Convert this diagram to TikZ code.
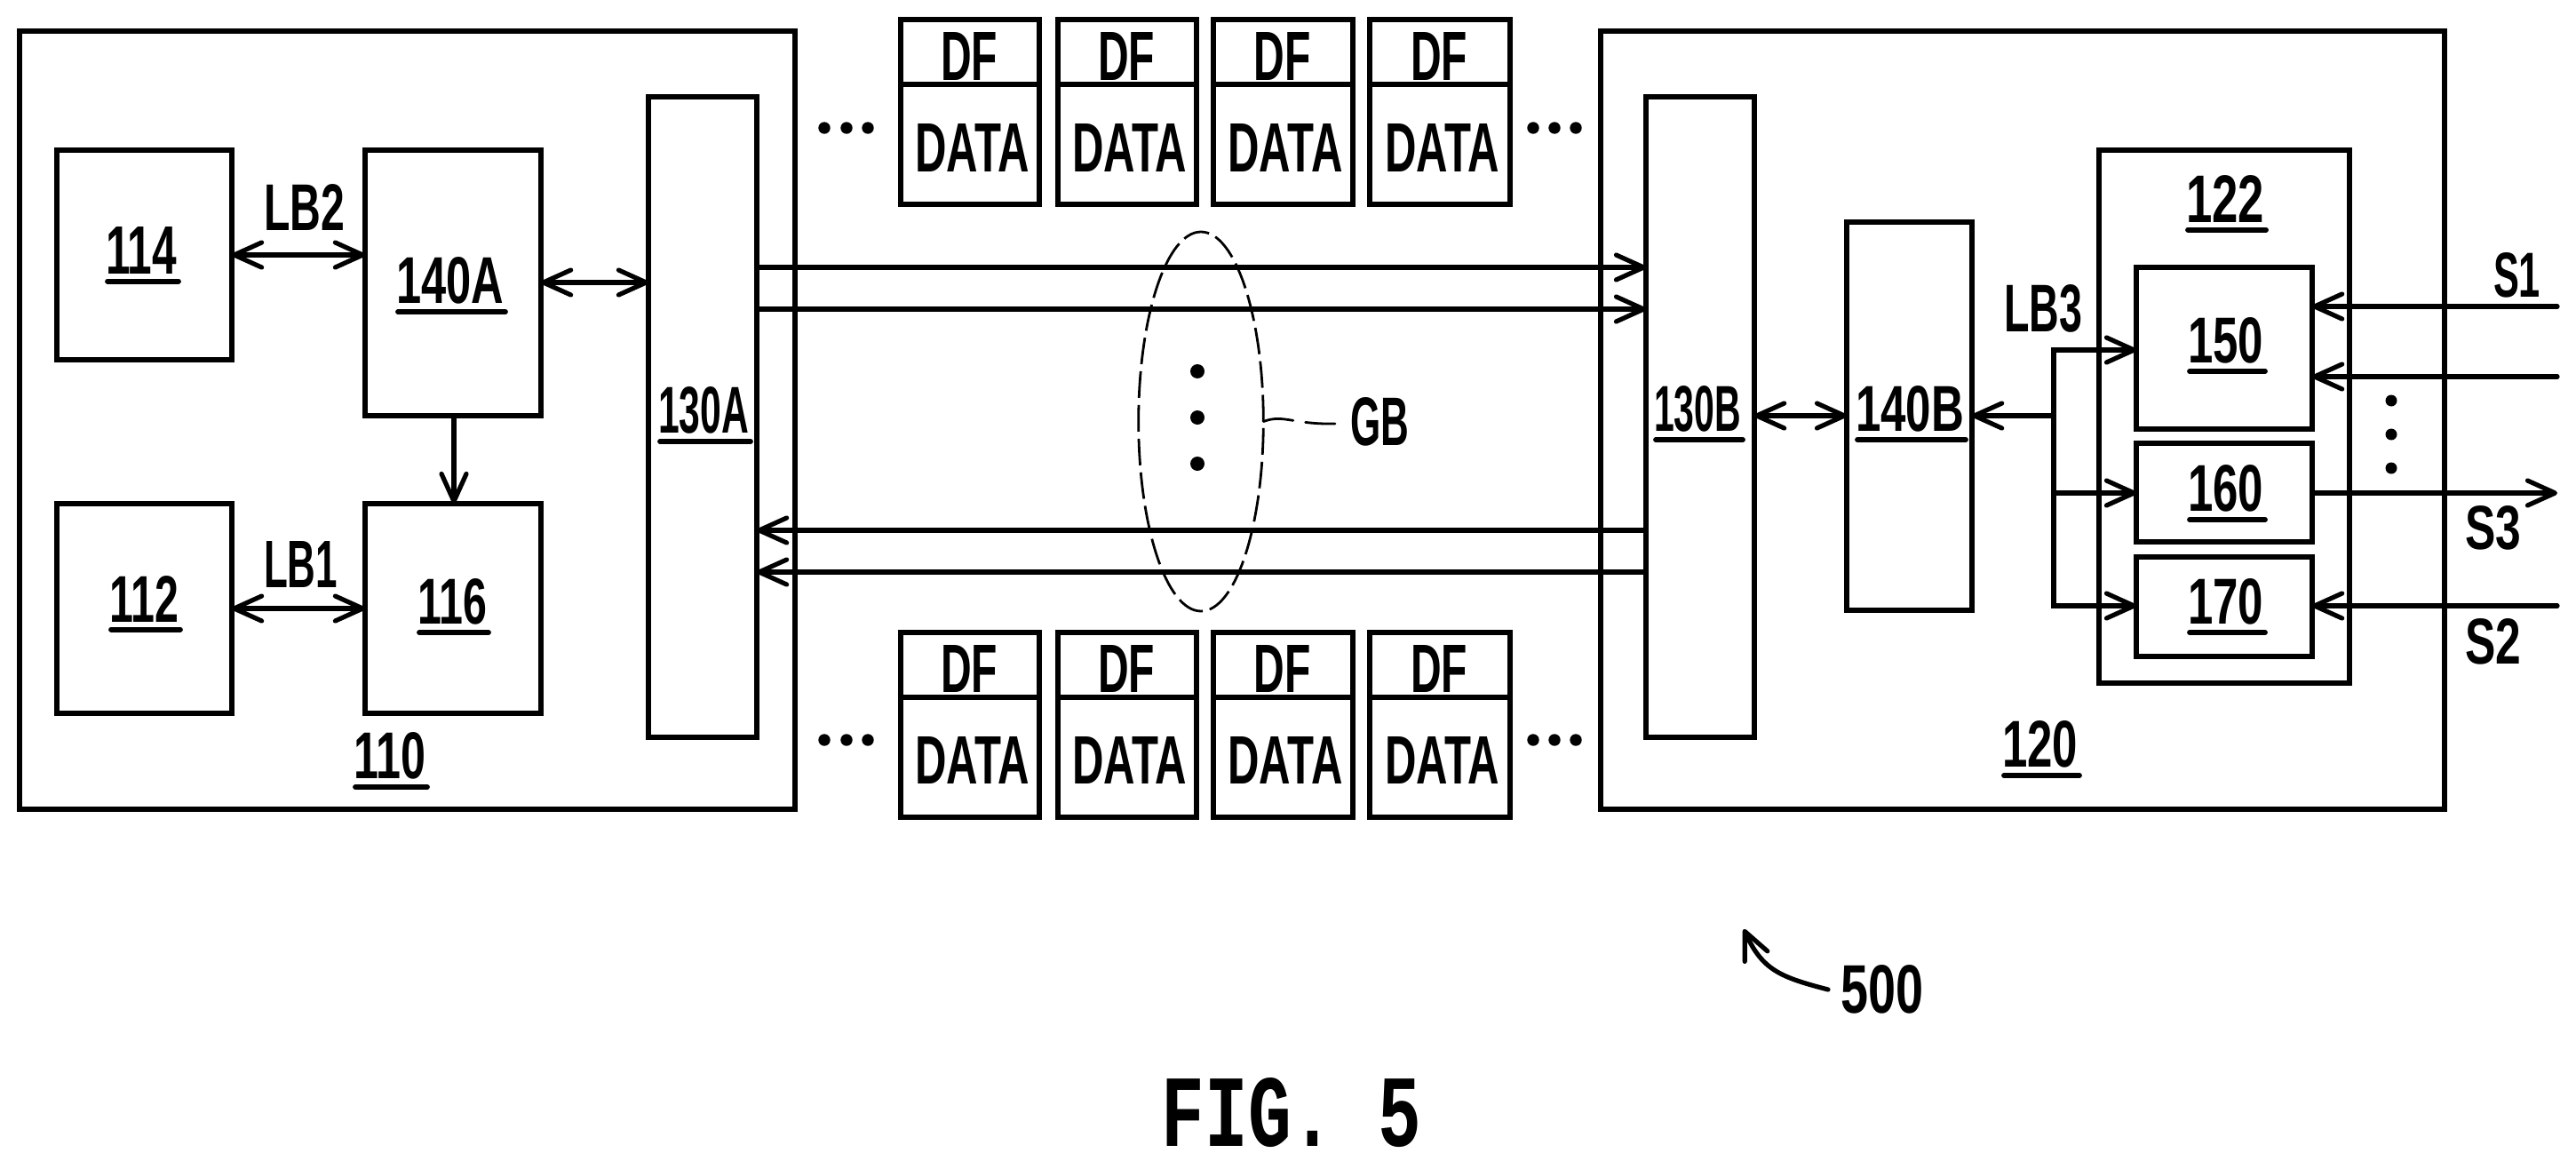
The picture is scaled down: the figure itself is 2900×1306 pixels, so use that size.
\documentclass[tikz,border=0pt]{standalone}
\usepackage{graphicx}
\usepackage{fontspec}
\setmainfont{Liberation Sans}[BoldFont={Liberation Sans Bold}]
\newfontfamily\figfont{Liberation Mono}[BoldFont={Liberation Mono Bold}]
\usetikzlibrary{arrows.meta,shapes.geometric}
\tikzset{
  blk/.style={draw=black,line width=2.7pt,rectangle,inner sep=0pt,outer sep=0pt,line join=miter},
  txt/.style={inner sep=0pt,outer sep=0pt,anchor=center,text=black,font=\bfseries},
  conn/.style={draw=black,line width=2.6pt,line cap=round,line join=miter,
    >={Straight Barb[length=15.5pt,width=14pt,line width=2.6pt,round]}},
  ulin/.style={draw=black,line width=2.9pt,line cap=round},
  blob/.style={circle,fill=black,inner sep=0pt,outer sep=0pt},
}
% box: name, x1, y1, x2, y2
\newcommand{\bxx}[5]{\node[blk,minimum width={((#4)-(#2))*0.5},minimum height={((#5)-(#3))*0.5}] (#1) at ({((#2)+(#4))/2},{((#3)+(#5))/2}) {};}
% label: name, x1, y1, x2, y2 (text extents), text
\newcommand{\lbl}[6]{\pgfmathsetmacro\wdv{((#4)-(#2))*0.5}\pgfmathsetmacro\htv{((#5)-(#3))*0.5}\node[txt] (#1) at ({((#2)+(#4))/2},{((#3)+(#5))/2}) {\resizebox{\wdv pt}{\htv pt}{#6}};}
\newcommand{\ulbl}[6]{\lbl{#1}{#2}{#3}{#4}{#5}{#6}\draw[ulin] ([yshift=-4.3pt,xshift=1pt]#1.south west) -- ([yshift=-4.3pt,xshift=1pt]#1.south east);}
\newcommand{\dotn}[4]{\node[blob,minimum size={#4}] (#1) at (#2,#3) {};}
\begin{document}
\begin{tikzpicture}[x=0.5pt,y=-0.5pt]
\useasboundingbox (0,0) rectangle (2900,1306);
% outer frames
\bxx{n110}{22}{35}{895}{911}
\bxx{n120}{1802}{35}{2752}{911}
% left block
\bxx{n114}{64}{169}{261}{405}
\bxx{n140A}{411}{169}{609}{468}
\bxx{n112}{64}{567}{261}{803}
\bxx{n116}{411}{567}{609}{803}
\bxx{n130A}{730}{109}{852}{830}
% right block
\bxx{n130B}{1853}{109}{1975}{830}
\bxx{n140B}{2079}{250}{2220}{687}
\bxx{n122}{2363}{169}{2645}{769}
\bxx{n150}{2405}{301}{2603}{483}
\bxx{n160}{2405}{499}{2603}{610}
\bxx{n170}{2405}{627}{2603}{739}
% packets
\foreach \nm/\xa/\xb in {a/1014/1170,b/1191/1347,c/1366/1523,d/1542/1700}{
  \bxx{top\nm}{\xa}{22}{\xb}{230}
  \bxx{topf\nm}{\xa}{22}{\xb}{95}
  \bxx{bot\nm}{\xa}{712}{\xb}{920}
  \bxx{botf\nm}{\xa}{712}{\xb}{785}
  \pgfmathsetmacro\cx{(\xa+\xb)/2}
  \lbl{tdf\nm}{\cx-33}{36}{\cx+31}{90}{DF}
  \lbl{tda\nm}{\cx-62}{139}{\cx+67}{193}{DATA}
  \lbl{bdf\nm}{\cx-33}{726}{\cx+31}{779}{DF}
  \lbl{bda\nm}{\cx-62}{829}{\cx+67}{882}{DATA}
}
% dots
\foreach \i/\x in {1/928,2/953,3/977,4/1726,5/1750,6/1774}{
  \dotn{dt\i}{\x}{144}{6.7pt}
  \dotn{db\i}{\x}{833}{6.7pt}
}
\dotn{gd1}{1348}{418}{8pt}
\dotn{gd2}{1348}{470}{8pt}
\dotn{gd3}{1348}{522}{8pt}
\dotn{sd1}{2692}{451}{6.5pt}
\dotn{sd2}{2692}{489}{6.5pt}
\dotn{sd3}{2692}{527}{6.5pt}
% ellipse and GB
\node[ellipse,draw=black,line width=1.4pt,inner sep=0pt,outer sep=0pt,minimum width=70.3pt,minimum height=213.5pt,dash pattern=on 15pt off 4pt] (gbe) at (1352,474.5) {};
\lbl{gb}{1520}{448}{1586}{502}{GB}
\coordinate (gbend) at (1503,477);
\draw[line width=1.4pt,line cap=round,dash pattern=on 17pt off 7pt on 17pt off 60pt] (gbe.east) .. controls (1445,466) and (1455,478) .. (gbend);
% connectors
\draw[conn,<->] (n114.east |- 0,287) -- (n140A.west |- 0,287);
\draw[conn,<->] (n140A.east |- 0,318) -- (n130A.west |- 0,318);
\draw[conn,<->] (n112.east |- 0,685) -- (n116.west |- 0,685);
\draw[conn,->] (n140A.south -| 511,0) -- (n116.north -| 511,0);
\draw[conn,->] (n130A.east |- 0,301) -- (n130B.west |- 0,301);
\draw[conn,->] (n130A.east |- 0,348) -- (n130B.west |- 0,348);
\draw[conn,->] (n130B.west |- 0,597) -- (n130A.east |- 0,597);
\draw[conn,->] (n130B.west |- 0,644) -- (n130A.east |- 0,644);
\draw[conn,<->] (n130B.east |- 0,468) -- (n140B.west |- 0,468);
\coordinate (bus) at (2312,468);
\draw[conn,->] (bus) -- (n140B.east |- bus);
\draw[conn,->] (bus) |- (n150.west |- 0,394);
\draw[conn,->] (bus) |- (n170.west |- 0,682);
\draw[conn,->] (bus |- 0,555) -- (n160.west |- 0,555);
\coordinate (s1e) at (2879,345);
\coordinate (s4e) at (2879,424);
\coordinate (s3e) at (2879,555);
\coordinate (s2e) at (2879,682);
\draw[conn,->] (s1e) -- (n150.east |- s1e);
\draw[conn,->] (s4e) -- (n150.east |- s4e);
\draw[conn,->] (n160.east |- s3e) -- (s3e);
\draw[conn,->] (s2e) -- (n170.east |- s2e);
% labels
\ulbl{t114}{119}{255}{199}{308}{114}
\ulbl{t140A}{446}{290}{567}{342}{140A}
\ulbl{t130A}{741}{436}{843}{488}{130A}
\ulbl{t112}{123}{648}{201}{700}{112}
\ulbl{t116}{470}{652}{548}{703}{116}
\ulbl{t110}{398}{825}{479}{877}{110}
\lbl{tLB2}{297}{207}{388}{259}{LB2}
\lbl{tLB1}{297}{609}{380}{661}{LB1}
\ulbl{t130B}{1862}{435}{1960}{486}{130B}
\ulbl{t140B}{2089}{435}{2211}{486}{140B}
\ulbl{t120}{2254}{812}{2339}{864}{120}
\ulbl{t122}{2461}{197}{2549}{250}{122}
\ulbl{t150}{2463}{358}{2548}{409}{150}
\ulbl{t160}{2463}{524}{2548}{576}{160}
\ulbl{t170}{2463}{652}{2548}{703}{170}
\lbl{tLB3}{2256}{321}{2344}{374}{LB3}
\lbl{tS1}{2807}{285}{2860}{335}{S1}
\lbl{tS3}{2775}{570}{2838}{619}{S3}
\lbl{tS2}{2775}{697}{2838}{748}{S2}
\lbl{t500}{2072}{1087}{2165}{1141}{500}
\lbl{tfig}{1308}{1214}{1600}{1291}{\figfont\bfseries FIG. 5}
\coordinate (tip500) at (1963,1046);
\draw[conn,->] (t500.west |- 0,1114) ++(-14,0) .. controls (2004,1100) and (1984,1092) .. (tip500);
\end{tikzpicture}
\end{document}
